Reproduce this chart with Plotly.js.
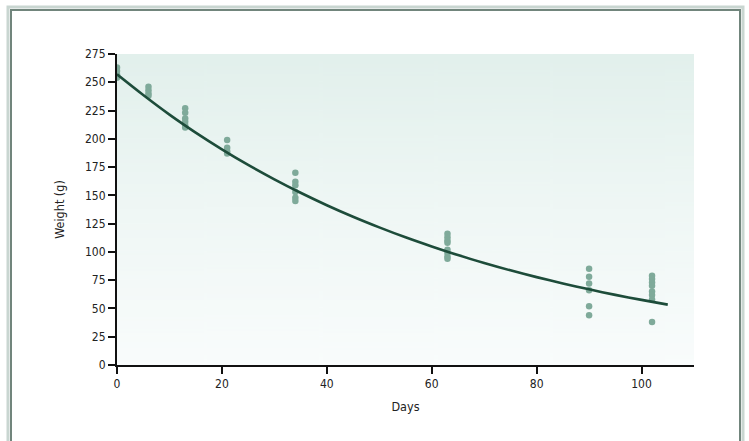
<!DOCTYPE html>
<html>
<head>
<meta charset="utf-8">
<script src="https://cdn.plot.ly/plotly-3.0.1.min.js"></script>
<style>
  html, body { margin: 0; padding: 0; background: #ffffff; }
  #chart { width: 749px; height: 441px; }
  #chart text { font-stretch: condensed !important; }
</style>
</head>
<body>
<div id="chart"></div>
<script>
// Observed weights (g) per measurement day
const obsDays = [
  0, 0, 0, 0,
  6, 6, 6, 6,
  13, 13, 13, 13, 13, 13,
  21, 21, 21, 21,
  34, 34, 34, 34, 34, 34,
  63, 63, 63, 63, 63, 63, 63, 63,
  90, 90, 90, 90, 90, 90,
  102, 102, 102, 102, 102, 102, 102, 102
];
const obsWeights = [
  263, 260, 257, 254,
  246, 243, 240, 238,
  227, 223, 218, 215, 212, 210,
  199, 192, 189, 187,
  170, 162, 159, 153, 148, 145,
  116, 113, 110, 108, 102, 99, 96, 94,
  85, 78, 72, 66, 52, 44,
  79, 76, 73, 70, 65, 62, 58, 38
];

// Fitted curve
const curveDays = [0, 5, 10, 15, 20, 25, 30, 35, 40, 45, 50, 55, 60, 65, 70, 75, 80, 85, 90, 95, 100, 105];
const curveWeights = [257, 238.7, 221.4, 205.5, 190.7, 176.9, 164.2, 152.3, 141.3, 131.1, 121.7, 112.9, 104.8, 97.2, 90.2, 83.7, 77.7, 72.1, 66.9, 62.0, 57.6, 53.4];

const xTicks = [0, 20, 40, 60, 80, 100];
const yTicks = [0, 25, 50, 75, 100, 125, 150, 175, 200, 225, 250, 275];

// background gradient for plot area
const cv = document.createElement('canvas');
cv.width = 10; cv.height = 300;
const ctx = cv.getContext('2d');
const g = ctx.createLinearGradient(0, 0, 0, 300);
g.addColorStop(0, '#e2f0ec');
g.addColorStop(0.5, '#eff7f5');
g.addColorStop(1, '#f9fcfc');
ctx.fillStyle = g;
ctx.fillRect(0, 0, 10, 300);
const bgUrl = cv.toDataURL('image/png');

const FONT = '"DejaVu Sans Condensed", "Liberation Sans Narrow", "DejaVu Sans", sans-serif';

const traces = [
  {
    x: obsDays, y: obsWeights,
    type: 'scatter', mode: 'markers',
    marker: { color: '#7faa9a', size: 6.5, line: { width: 0 } },
    hoverinfo: 'x+y', showlegend: false
  },
  {
    x: curveDays, y: curveWeights,
    type: 'scatter', mode: 'lines',
    line: { color: '#1d4c3a', width: 2.6, shape: 'spline', smoothing: 0.8 },
    hoverinfo: 'skip', showlegend: false
  }
];

const layout = {
  width: 749, height: 441,
  margin: { l: 117, r: 55, t: 54, b: 76, pad: 0 },
  paper_bgcolor: '#ffffff',
  plot_bgcolor: 'rgba(0,0,0,0)',
  font: { family: FONT, size: 12, color: '#222222' },
  xaxis: {
    range: [0, 110], tickvals: xTicks, ticktext: xTicks.map(String),
    showgrid: false, zeroline: false,
    showline: true, linecolor: '#111111', linewidth: 2,
    ticks: 'outside', ticklen: 7, tickwidth: 2, tickcolor: '#111111',
    tickfont: { family: FONT, size: 12, color: '#222222' },
    title: { text: 'Days', font: { family: FONT, size: 12.5, color: '#222222' }, standoff: 12 },
    fixedrange: true
  },
  yaxis: {
    range: [0, 275], tickvals: yTicks, ticktext: yTicks.map(String),
    showgrid: false, zeroline: false,
    showline: true, linecolor: '#111111', linewidth: 2,
    ticks: 'outside', ticklen: 7, tickwidth: 2, tickcolor: '#111111',
    tickfont: { family: FONT, size: 12, color: '#222222' },
    title: { text: 'Weight (g)', font: { family: FONT, size: 12.5, color: '#222222' }, standoff: 18 },
    fixedrange: true
  },
  images: [{
    source: bgUrl, xref: 'paper', yref: 'paper',
    x: 0, y: 1, sizex: 1, sizey: 1, sizing: 'stretch',
    xanchor: 'left', yanchor: 'top', layer: 'below'
  }],
  shapes: [
    { type: 'rect', xref: 'paper', yref: 'paper',
      x0: (8 - 117) / 577, x1: (743 - 117) / 577,
      y0: (365 - 452) / 311, y1: (365 - 7) / 311,
      line: { color: '#c9d6d1', width: 3 }, fillcolor: 'rgba(0,0,0,0)', layer: 'below' },
    { type: 'rect', xref: 'paper', yref: 'paper',
      x0: (11 - 117) / 577, x1: (740 - 117) / 577,
      y0: (365 - 450) / 311, y1: (365 - 10) / 311,
      line: { color: '#71857c', width: 2 }, fillcolor: 'rgba(0,0,0,0)', layer: 'below' }
  ]
};

Plotly.newPlot('chart', traces, layout, { displayModeBar: false, staticPlot: true });
</script>
</body>
</html>
